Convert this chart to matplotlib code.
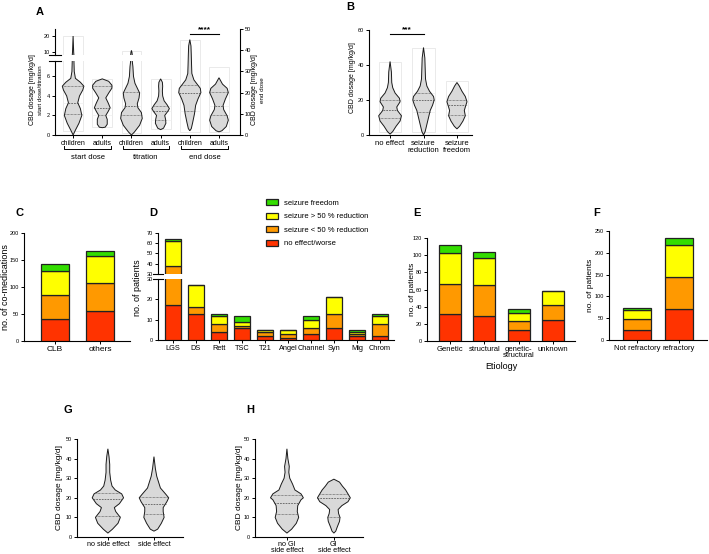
import numpy as np
import matplotlib
matplotlib.use("Agg")
import matplotlib.pyplot as plt
from matplotlib.patches import Patch, Rectangle
from matplotlib.transforms import blended_transform_factory

plt.rcParams["font.family"] = ["Liberation Sans", "DejaVu Sans"]

# ---------------- data ----------------
# violin outlines: (dosage, relative half width)
a_labels = ["children", "adults", "children", "adults", "children", "adults"]
a_groups = ["start dose", "titration", "end dose"]
a_start_children = [(0, 0), (0.5, 0.08), (1.2, 0.2), (2, 0.3), (2.7, 0.25), (3.3, 0.16), (4, 0.22),
                    (4.6, 0.33), (5, 0.37), (5.4, 0.25), (5.8, 0.08), (6.5, 0.04), (7.5, 0.03),
                    (10, 0.02), (20, 0)]
a_start_adults = [(0.75, 0), (0.8, 0.1), (1.1, 0.17), (1.6, 0.17), (2.0, 0.12), (2.4, 0.2), (2.8, 0.27),
                  (3.3, 0.2), (3.8, 0.12), (4.3, 0.22), (4.8, 0.33), (5.1, 0.33), (5.5, 0.22), (5.75, 0)]
a_titr_children = [(0, 0), (0.3, 0.1), (1, 0.28), (1.7, 0.37), (2.3, 0.34), (2.8, 0.22), (3.2, 0.2),
                   (3.8, 0.26), (4.3, 0.28), (4.8, 0.2), (5.3, 0.12), (6, 0.07), (7, 0.05), (7.5, 0.03),
                   (9.5, 0.02), (11, 0)]
a_titr_adults = [(0.55, 0), (0.7, 0.1), (1.2, 0.18), (1.6, 0.17), (2.0, 0.14), (2.4, 0.24), (2.7, 0.3),
                 (3.1, 0.22), (3.5, 0.12), (4, 0.07), (4.5, 0.06), (5, 0.07), (5.4, 0.06), (5.75, 0)]
a_end_children = [(2, 0), (3, 0.05), (6, 0.1), (10, 0.16), (14, 0.2), (17, 0.28), (20, 0.38), (22, 0.36),
                  (24, 0.25), (26, 0.14), (29, 0.07), (33, 0.06), (38, 0.05), (42, 0.04), (45, 0)]
a_end_adults = [(1.5, 0), (2, 0.1), (4, 0.25), (7, 0.32), (9, 0.28), (12, 0.16), (14, 0.14), (17, 0.22),
                (20, 0.32), (22, 0.28), (24, 0.12), (25.5, 0.06), (27, 0)]
a_quartiles = [(2.1, 3.3, 5.0), (2.0, 2.8, 5.0), (2.0, 3.0, 4.4), (1.5, 2.5, 3.0), (11.5, 20, 23.5), (9.5, 13.7, 20.5)]
a_range = [(0.4, 20), (0.8, 5.7), (0.2, 10.5), (0.6, 5.7), (1.5, 45), (1.5, 32)]

b_labels = ["no effect", "seizure\nreduction", "seizure\nfreedom"]
b_no_effect = [(0.5, 0), (2, 0.08), (5, 0.18), (8, 0.3), (11, 0.34), (14, 0.22), (16, 0.2), (19, 0.3),
               (21, 0.28), (24, 0.15), (27, 0.08), (30, 0.05), (36, 0.04), (42, 0)]
b_reduction = [(0, 0), (2, 0.05), (6, 0.1), (10, 0.15), (14, 0.2), (17, 0.27), (20, 0.32), (22, 0.3),
               (25, 0.18), (28, 0.1), (32, 0.06), (38, 0.05), (44, 0.04), (50, 0)]
b_freedom = [(3.5, 0), (5, 0.08), (8, 0.18), (11, 0.25), (14, 0.22), (16, 0.25), (19, 0.3), (22, 0.25),
             (25, 0.15), (28, 0.07), (30, 0)]
b_quartiles = [(10, 14.5, 20), (13, 20, 24), (11.5, 17, 20)]
b_range = [(1.8, 42), (1.8, 50), (1.8, 31)]

g_labels = ["no side effect", "side effect"]
g_no_side = [(2, 0), (4, 0.1), (7, 0.22), (10, 0.27), (13, 0.17), (15, 0.14), (17, 0.25), (20, 0.34),
             (22, 0.3), (24, 0.16), (26, 0.09), (29, 0.06), (33, 0.04), (37, 0.04), (41, 0.025), (45, 0)]
g_side = [(3, 0), (4, 0.08), (7, 0.16), (10, 0.22), (13, 0.2), (15, 0.2), (18, 0.28), (20, 0.32),
          (22, 0.25), (25, 0.14), (28, 0.1), (31, 0.06), (35, 0.03), (41, 0)]
g_quartiles = [(10.5, 19.5, 22.5), (11.5, 17, 20.5)]

h_labels = ["no GI\nside effect", "GI\nside effect"]
h_no_gi = [(2, 0), (4, 0.1), (7, 0.2), (10, 0.25), (13, 0.22), (16, 0.23), (19, 0.3), (20, 0.35), (22, 0.3),
           (24, 0.17), (27, 0.12), (30, 0.06), (33, 0.04), (36, 0.05), (40, 0.02), (45, 0)]
h_gi = [(2, 0), (3, 0.04), (5, 0.07), (8, 0.12), (10, 0.13), (12, 0.1), (14, 0.09), (16, 0.17), (18, 0.3),
        (20, 0.35), (22, 0.3), (24, 0.25), (26, 0.18), (28, 0.12), (29.5, 0)]
h_quartiles = [(11.5, 17.5, 21.5), (10, 20, 22)]

# stacked bars: no effect / <50 % / >50 % / freedom
c_cats = ["CLB", "others"]
c_none = [40, 56]
c_lt50 = [45, 52]
c_gt50 = [45, 49]
c_free = [13, 9]

d_cats = ["LGS", "DS", "Rett", "TSC", "T21", "Angel", "Channel", "Syn", "Mig", "Chrom"]
d_none = [17, 13, 4, 6, 2, 1, 3, 6, 2, 2]
d_lt50 = [21, 3, 4, 1, 2, 2, 3, 7, 1, 6]
d_gt50 = [24, 11, 4, 2, 1, 2, 4, 8, 1, 4]
d_free = [2, 0, 1, 3, 0, 0, 2, 0, 1, 1]

e_cats = ["Genetic", "structural", "genetic-\nstructural", "unknown"]
e_none = [32, 29, 13, 25]
e_lt50 = [34, 36, 10, 17]
e_gt50 = [37, 32, 10, 16]
e_free = [9, 7, 4, 0]

f_cats = ["Not refractory", "refractory"]
f_none = [23, 72]
f_lt50 = [25, 73]
f_gt50 = [20, 73]
f_free = [6, 16]

legend_labels = ["seizure freedom", "seizure > 50 % reduction", "seizure < 50 % reduction", "no effect/worse"]
stack_colors = ["#ff3300", "#ff9900", "#ffff00", "#33dd00"]

# ---------------- helpers ----------------
W, H = 709, 554
fig = plt.figure(figsize=(W / 100, H / 100), dpi=100)


def add_ax(x0, y0, x1, y1):
    return fig.add_axes([x0 / W, 1 - y1 / H, (x1 - x0) / W, (y1 - y0) / H])


def style(ax, spines=("left", "bottom")):
    for s in ax.spines:
        ax.spines[s].set_visible(s in spines)
        ax.spines[s].set_linewidth(0.8)
    ax.tick_params(length=2.5, width=0.7, labelsize=4, pad=1)
    ax.patch.set_alpha(0)


def violin(ax, x, prof, quarts, rng=None):
    y = np.array([p[0] for p in prof], float)
    w = np.array([p[1] for p in prof], float)
    if rng is not None:
        ax.add_patch(Rectangle((x - 0.34, rng[0]), 0.68, rng[1] - rng[0], fill=False,
                               ec="#e6e6e6", lw=0.6, zorder=1))
        for q in quarts:
            ax.plot([x - 0.34, x + 0.34], [q, q], color="#efefef", lw=0.5, zorder=1)
    ax.fill(np.r_[x - w, (x + w)[::-1]], np.r_[y, y[::-1]], fc="#d9d9d9", ec="#1a1a1a", lw=0.7, zorder=3)
    for q, ls in zip(quarts, [(0, (1, 1)), (0, (2.5, 1.5)), (0, (1, 1))]):
        hw = np.interp(q, y, w)
        ax.plot([x - hw, x + hw], [q, q], color="#444444", lw=0.5, ls=ls, zorder=4)


def stacked(ax, cats, series, width):
    x = np.arange(len(cats))
    bottom = np.zeros(len(cats))
    for vals, col in zip(series, stack_colors):
        ax.bar(x, vals, width, bottom=bottom, color=col, edgecolor="#222222", lw=0.9, zorder=3)
        bottom += np.array(vals)


def letter(x, y, s):
    fig.text(x / W, 1 - y / H, s, fontsize=8, fontweight="bold", ha="center", va="center")


def ylab(x, y, s, size=6):
    fig.text(x / W, 1 - y / H, s, fontsize=size, rotation=90, ha="center", va="center")


# ---------------- panel A ----------------
a_left = [a_start_children, a_start_adults, a_titr_children, a_titr_adults]
a_xlim = (-0.62, 5.72)
ax_at = add_ax(55, 29, 240, 55)
ax_ab = add_ax(55, 61, 240, 135)
ax_ar = add_ax(55, 29, 240, 135)
for i, prof in enumerate(a_left):
    for ax in (ax_at, ax_ab):
        violin(ax, i, prof, a_quartiles[i], a_range[i])
for i, prof in enumerate([a_end_children, a_end_adults]):
    violin(ax_ar, i + 4, prof, a_quartiles[i + 4], a_range[i + 4])
style(ax_at, ("left",))
ax_at.set_ylim(8.1, 24.4)
ax_at.set_yticks([10, 20])
ax_at.set_xticks([])
style(ax_ab)
ax_ab.set_ylim(0, 7.58)
ax_ab.set_yticks([0, 2, 4, 6])
ax_ab.set_xticks(range(6))
ax_ab.set_xticklabels(a_labels, fontsize=5)
style(ax_ar, ("right",))
ax_ar.set_ylim(0, 50)
ax_ar.set_yticks(range(0, 51, 10))
ax_ar.set_xticks([])
ax_ar.yaxis.tick_right()
for ax in (ax_at, ax_ab, ax_ar):
    ax.set_xlim(*a_xlim)
# break caps
for ax, yy in ((ax_at, 0), (ax_ab, 1)):
    ax.plot([-0.03, 0.03], [yy, yy], transform=ax.transAxes, color="black", lw=0.8, clip_on=False)
tr = blended_transform_factory(ax_ab.transData, ax_ab.transAxes)
for g, name in enumerate(a_groups):
    x0, x1 = 2 * g - 0.3, 2 * g + 1.3
    ax_ab.plot([x0, x0, x1, x1], [-0.15, -0.19, -0.19, -0.15], transform=tr, color="black", lw=0.7, clip_on=False)
    ax_ab.text(2 * g + 0.5, -0.3, name, transform=tr, fontsize=5.5, ha="center", va="center")
ax_ar.plot([4, 5], [47.6, 47.6], color="black", lw=0.8)
ax_ar.text(4.5, 48.2, "****", fontsize=6, ha="center", va="bottom", fontweight="bold")
ylab(33, 90, "CBD dosage [mg/kg/d]", 5)
ylab(40, 90, "start dose/titration", 4.5)
ylab(255, 90, "CBD dosage [mg/kg/d]", 5)
ylab(262, 90, "end dose", 4.5)
letter(40, 12, "A")

# ---------------- panel B ----------------
ax_b = add_ax(369, 30, 472, 135)
for i, (prof, q, r) in enumerate(zip([b_no_effect, b_reduction, b_freedom], b_quartiles, b_range)):
    violin(ax_b, i, prof, q, r)
style(ax_b)
ax_b.set_xlim(-0.63, 2.45)
ax_b.set_ylim(0, 60)
ax_b.set_yticks([0, 20, 40, 60])
ax_b.set_xticks(range(3))
ax_b.set_xticklabels(b_labels, fontsize=5.5, linespacing=1.0)
ax_b.plot([0, 1], [57.7, 57.7], color="black", lw=0.8)
ax_b.text(0.5, 58.2, "***", fontsize=6, ha="center", va="bottom", fontweight="bold")
ylab(353, 78, "CBD dosage [mg/kg/d]", 5)
letter(350, 7, "B")

# ---------------- panel C ----------------
ax_c = add_ax(24, 233, 130, 341)
stacked(ax_c, c_cats, [c_none, c_lt50, c_gt50, c_free], 0.64)
style(ax_c)
ax_c.set_xlim(-0.69, 1.67)
ax_c.set_ylim(0, 200)
ax_c.set_yticks(range(0, 201, 50))
ax_c.set_xticks(range(2))
ax_c.set_xticklabels(c_cats, fontsize=6)
ylab(6, 287, "no. of co-medications", 6.5)
letter(20, 213, "C")

# ---------------- panel D ----------------
ax_dt = add_ax(158, 233, 394, 274)
ax_db = add_ax(158, 279, 394, 340)
for ax in (ax_dt, ax_db):
    stacked(ax, d_cats, [d_none, d_lt50, d_gt50, d_free], 0.7)
    ax.set_xlim(-0.65, 9.61)
style(ax_dt, ("left",))
ax_dt.set_ylim(30, 70)
ax_dt.set_yticks(range(30, 71, 10))
ax_dt.set_xticks([])
style(ax_db)
ax_db.set_ylim(0, 30)
ax_db.set_yticks([0, 10, 20, 30])
ax_db.set_xticks(range(len(d_cats)))
ax_db.set_xticklabels(d_cats, fontsize=5.3)
for ax, yy in ((ax_dt, 0), (ax_db, 1)):
    ax.plot([-0.02, 0.02], [yy, yy], transform=ax.transAxes, color="black", lw=0.8, clip_on=False)
ylab(138, 288, "no. of patients", 6.5)
letter(153, 213, "D")

handles = [Patch(fc=c, ec="#222222", lw=0.9) for c in stack_colors[::-1]]
fig.legend(handles, legend_labels, loc="upper left", bbox_to_anchor=(263 / W, 1 - 196 / H), frameon=False,
           fontsize=5.5, handlelength=1.6, handleheight=0.9, labelspacing=0.75, handletextpad=0.8,
           borderaxespad=0)

# ---------------- panel E ----------------
ax_e = add_ax(427, 238, 575, 341)
stacked(ax_e, e_cats, [e_none, e_lt50, e_gt50, e_free], 0.64)
style(ax_e)
ax_e.set_xlim(-0.67, 3.64)
ax_e.set_ylim(0, 120)
ax_e.set_yticks(range(0, 121, 20))
ax_e.set_xticks(range(len(e_cats)))
ax_e.set_xticklabels(e_cats, fontsize=5.5, linespacing=0.9)
ax_e.set_xlabel("Etiology", fontsize=6.5, labelpad=2)
ylab(413, 289, "no. of patients", 6)
letter(417, 213, "E")

# ---------------- panel F ----------------
ax_f = add_ax(609, 231, 707, 340)
stacked(ax_f, f_cats, [f_none, f_lt50, f_gt50, f_free], 0.67)
style(ax_f)
ax_f.set_xlim(-0.67, 1.67)
ax_f.set_ylim(0, 250)
ax_f.set_yticks(range(0, 251, 50))
ax_f.set_xticks(range(2))
ax_f.set_xticklabels(f_cats, fontsize=5.5)
ylab(590, 285, "no. of patients", 6)
letter(597, 213, "F")

# ---------------- panels G, H ----------------
for box, profs, quarts, labels, xl, lx, let in (
        ((77, 439, 183, 537), [g_no_side, g_side], g_quartiles, g_labels, (-0.67, 1.63), 60, ("G", 68)),
        ((255, 439, 363, 537), [h_no_gi, h_gi], h_quartiles, h_labels, (-0.68, 1.62), 240, ("H", 250))):
    ax = add_ax(*box)
    for i, (prof, q) in enumerate(zip(profs, quarts)):
        violin(ax, i, prof, q)
    style(ax)
    ax.set_xlim(*xl)
    ax.set_ylim(0, 50)
    ax.set_yticks(range(0, 51, 10))
    ax.set_xticks(range(2))
    ax.tick_params(axis="x", pad=0.5)
    ax.set_xticklabels(labels, fontsize=5.2, linespacing=0.85)
    ylab(lx, 488, "CBD dosage [mg/kg/d]", 6)
    letter(let[1], 410, let[0])

fig.savefig("out.png", dpi=100)
